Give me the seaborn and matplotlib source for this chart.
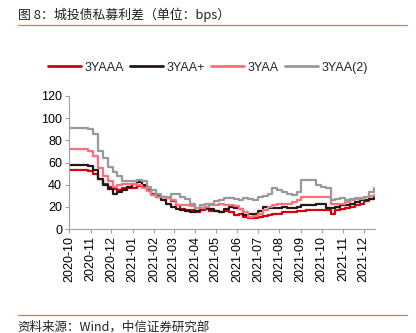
import matplotlib
matplotlib.use("Agg")
import matplotlib.pyplot as plt
import matplotlib.dates as mdates
from matplotlib.lines import Line2D
import seaborn as sns
import pandas as pd

dates = pd.date_range("2020-10-01", periods=64, freq="7D")

aaa = [53, 53, 53, 53, 52, 50, 45, 41, 38, 36, 35, 37, 37, 37, 39, 38, 35, 32, 30, 29,
       28, 25, 22, 18, 17, 17, 15, 17, 18, 16, 16, 15, 16, 15, 13, 14, 11, 10, 10, 11,
       12, 13, 14, 14, 15, 15, 15, 16, 16, 17, 17, 17, 17, 17, 14, 17, 18, 19, 20, 22,
       23, 25, 27, 29]
aa_plus = [58, 58, 58, 58, 57, 53, 45, 40, 36, 32, 33, 35, 38, 41, 42, 40, 35, 31, 29, 26,
           23, 20, 18, 17, 16, 15, 16, 19, 19, 18, 16, 15, 18, 20, 19, 18, 13, 14, 14, 16,
           20, 19, 19, 19, 20, 19, 19, 20, 22, 22, 22, 23, 23, 19, 19, 20, 22, 22, 23, 24,
           26, 26, 27, 29]
aa = [72, 72, 72, 72, 70, 66, 55, 48, 43, 38, 40, 41, 41, 41, 40, 37, 34, 31, 29, 29,
      28, 26, 22, 22, 22, 21, 19, 19, 20, 22, 22, 23, 22, 22, 21, 18, 15, 11, 12, 14,
      17, 20, 22, 23, 23, 23, 24, 26, 29, 29, 29, 29, 29, 29, 23, 23, 23, 24, 26, 27,
      28, 29, 30, 31]
aa2 = [91, 91, 91, 91, 90, 86, 70, 64, 56, 51, 48, 43, 43, 43, 44, 43, 38, 35, 32, 29,
       29, 32, 32, 29, 27, 23, 19, 22, 23, 23, 25, 26, 28, 28, 27, 26, 28, 27, 26, 29,
       30, 32, 37, 35, 33, 32, 31, 33, 44, 44, 44, 40, 38, 37, 26, 27, 28, 26, 27, 28,
       27, 29, 33, 37]

series_names = ["3YAAA", "3YAA+", "3YAA", "3YAA(2)"]
colors = ["#D7000F", "#231815", "#FF6F7A", "#999999"]
title = "图 8：城投债私募利差（单位：bps）"
source = "资料来源：Wind，中信证券研究部"

df = pd.DataFrame({"date": dates, "3YAAA": aaa, "3YAA+": aa_plus, "3YAA": aa, "3YAA(2)": aa2})
long = df.melt(id_vars="date", var_name="series", value_name="value")

sns.set_theme(style="white")
plt.rcParams["font.family"] = ["Noto Sans CJK SC", "DejaVu Sans"]

fig = plt.figure(figsize=(4.16, 3.33), dpi=100)
ax = fig.add_axes([0.166, 0.312, 0.735, 0.40])

sns.lineplot(data=long, x="date", y="value", hue="series", hue_order=series_names,
             palette=colors, linewidth=1.6, ax=ax, legend=False, drawstyle="steps-post")

ax.set_ylim(0, 120)
ax.set_yticks(range(0, 121, 20))
ax.set_xlim(pd.Timestamp("2020-10-01"), pd.Timestamp("2021-12-17"))
ax.xaxis.set_major_locator(mdates.MonthLocator())
ax.xaxis.set_major_formatter(mdates.DateFormatter("%Y-%m"))
ax.set_xlabel("")
ax.set_ylabel("")
for s in ["top", "right"]:
    ax.spines[s].set_visible(False)
for s in ["left", "bottom"]:
    ax.spines[s].set_color("#A0A0A0")
    ax.spines[s].set_linewidth(0.8)
ax.tick_params(axis="both", which="major", length=3, width=0.8, color="#A0A0A0",
               labelsize=9, labelcolor="#000000", pad=2, direction="out",
               bottom=True, left=True)
for lab in ax.get_xticklabels():
    lab.set_rotation(90)
for lab in ax.get_xticklabels() + ax.get_yticklabels():
    lab.set_family(["Liberation Sans", "DejaVu Sans"])

handles = [Line2D([0], [0], color=c, lw=2) for c in colors]
fig.legend(handles, series_names, loc="center", bbox_to_anchor=(0.5, 0.797), ncol=4,
           frameon=False, handlelength=2.6, columnspacing=0.5, handletextpad=0.3,
           prop={"family": ["Liberation Sans", "DejaVu Sans"], "size": 9})

fig.text(0.043, 0.955, title, fontsize=9.3, ha="left", va="center", color="#222222")
fig.add_artist(Line2D([0.043, 0.978], [0.925, 0.925], color="#E07070", lw=0.9))
fig.add_artist(Line2D([0.043, 0.978], [0.054, 0.054], color="#E07070", lw=0.9))
fig.text(0.043, 0.018, source, fontsize=9, ha="left", va="center", color="#222222")

fig.savefig("out.png", dpi=100)
